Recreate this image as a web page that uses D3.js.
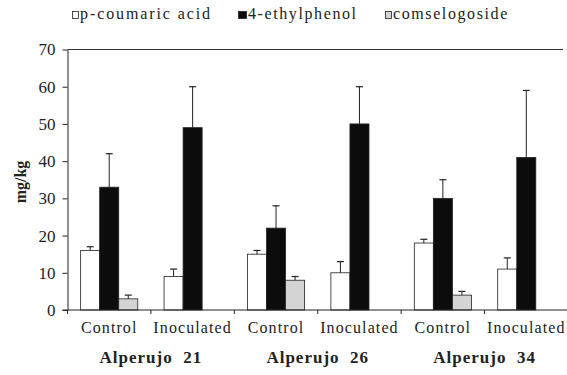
<!DOCTYPE html>
<html>
<head>
<meta charset="utf-8">
<script src="https://cdn.jsdelivr.net/npm/d3@7"></script>
<style>
  #chart text { font-family: "Liberation Serif", "Times New Roman", serif !important; }
</style>
</head>
<body style="margin:0;background:#fff">
<svg id="chart" width="567" height="375" font-family="Liberation Serif"></svg>
<script>
// data
const groups = ["Alperujo  21", "Alperujo  26", "Alperujo  34"]
const treatments = ["Control", "Inoculated"]
const series = ["p-coumaric acid", "4-ethylphenol", "comselogoside"]
// one row per group x treatment, values per series
const coumaric    = [16, 9, 15, 10, 18, 11]
const coumaricErr = [1, 2, 1, 3, 1, 3]
const ethyl       = [33, 49, 22, 50, 30, 41]
const ethylErr    = [9, 11, 6, 10, 5, 18]
const comsel      = [3, 0, 8, 0, 4, 0]
const comselErr   = [1, 0, 1, 0, 1, 0]
const yTicks = [0, 10, 20, 30, 40, 50, 60, 70]

const colors = ["#ffffff", "#0c0c0c", "#d4d4d4"]
const FONT = "Liberation Serif"

const svg = d3.select("#chart")
const left = 67.5
const W = 567

// build the table of cells
const cells = []
groups.forEach((g, gi) => {
  treatments.forEach((t, ti) => {
    cells.push({key: g + "|" + t, group: g, treat: t, i: gi * 2 + ti})
  })
})

const x0 = d3.scaleBand().domain(cells.map(d => d.key)).range([left, 568]).padding(0)
const x1 = d3.scaleBand().domain(series).range([0, x0.bandwidth()]).paddingInner(0).paddingOuter(0.69)
const y = d3.scaleLinear().domain([0, 70]).range([310, 49.5])

const vals = [coumaric, ethyl, comsel]
const errs = [coumaricErr, ethylErr, comselErr]

// top border line at 70
svg.append("line")
  .attr("x1", left).attr("x2", 563)
  .attr("y1", y(70)).attr("y2", y(70))
  .attr("stroke", "#333").attr("stroke-width", 1.2)

// y axis
const yAxis = svg.append("g")
  .attr("transform", `translate(${left},0)`)
  .call(d3.axisLeft(y).tickValues(yTicks).tickSize(5).tickPadding(7).tickSizeOuter(0))
yAxis.attr("font-family", FONT).attr("font-size", 17)
yAxis.select(".domain").attr("stroke", "#222")
yAxis.selectAll(".tick line").attr("stroke", "#222")
yAxis.selectAll("text").attr("fill", "#222")

// bars
cells.forEach(c => {
  const g = svg.append("g").attr("transform", `translate(${x0(c.key)},0)`)
  series.forEach((s, si) => {
    const v = vals[si][c.i]
    if (v <= 0) return
    const bx = x1(s), bw = x1.bandwidth()
    g.append("rect")
      .attr("x", bx).attr("y", y(v))
      .attr("width", bw).attr("height", y(0) - y(v))
      .attr("fill", colors[si])
      .attr("stroke", "#222").attr("stroke-width", 0.8)
    const e = errs[si][c.i]
    const cx = bx + bw / 2
    g.append("line")
      .attr("x1", cx).attr("x2", cx)
      .attr("y1", y(v)).attr("y2", y(v + e))
      .attr("stroke", "#222").attr("stroke-width", 1)
    g.append("line")
      .attr("x1", cx - 3.5).attr("x2", cx + 3.5)
      .attr("y1", y(v + e)).attr("y2", y(v + e))
      .attr("stroke", "#222").attr("stroke-width", 1.2)
  })
})

// x axis with ticks at group boundaries
const xa = svg.append("g")
xa.append("line")
  .attr("x1", left - 5).attr("x2", W)
  .attr("y1", y(0)).attr("y2", y(0))
  .attr("stroke", "#222").attr("stroke-width", 1)
xa.selectAll(".bt")
  .data(cells)
  .join("line")
  .attr("x1", d => x0(d.key)).attr("x2", d => x0(d.key))
  .attr("y1", y(0)).attr("y2", y(0) + 4)
  .attr("stroke", "#222")

// treatment labels
svg.selectAll(".tl")
  .data(cells)
  .join("text")
  .attr("x", d => x0(d.key) + x0.bandwidth() / 2)
  .attr("y", 333)
  .attr("text-anchor", "middle")
  .attr("font-family", FONT)
  .attr("font-size", 16)
  .attr("letter-spacing", 1.1)
  .attr("fill", "#222")
  .text(d => d.treat)

// group labels
svg.selectAll(".gl")
  .data(groups)
  .join("text")
  .attr("x", (d, i) => x0(cells[i * 2].key) + x0.bandwidth())
  .attr("y", 363)
  .attr("text-anchor", "middle")
  .attr("font-family", FONT)
  .attr("font-size", 17)
  .attr("font-weight", "bold")
  .attr("letter-spacing", 1)
  .attr("xml:space", "preserve")
  .attr("fill", "#222")
  .text(d => d)

// y label
svg.append("text")
  .attr("transform", "translate(26,182) rotate(-90)")
  .attr("text-anchor", "middle")
  .attr("font-family", FONT)
  .attr("font-size", 16)
  .attr("font-weight", "bold")
  .attr("fill", "#222")
  .text("mg/kg")

// legend
const legX = [72, 238, 385]
const leg = svg.selectAll(".leg")
  .data(series)
  .join("g")
  .attr("transform", (d, i) => `translate(${legX[i]},0)`)
leg.append("rect")
  .attr("x", 0.5).attr("y", 11.5)
  .attr("width", (d, i) => i == 1 ? 8 : 6).attr("height", 7)
  .attr("fill", (d, i) => colors[i])
  .attr("stroke", "#222").attr("stroke-width", 0.8)
leg.append("text")
  .attr("x", (d, i) => i == 1 ? 10 : 8)
  .attr("y", 19)
  .attr("font-family", FONT)
  .attr("font-size", 16)
  .attr("letter-spacing", (d, i) => i == 0 ? 1.9 : 1.6)
  .attr("fill", "#222")
  .text(d => d)
</script>
</body>
</html>
